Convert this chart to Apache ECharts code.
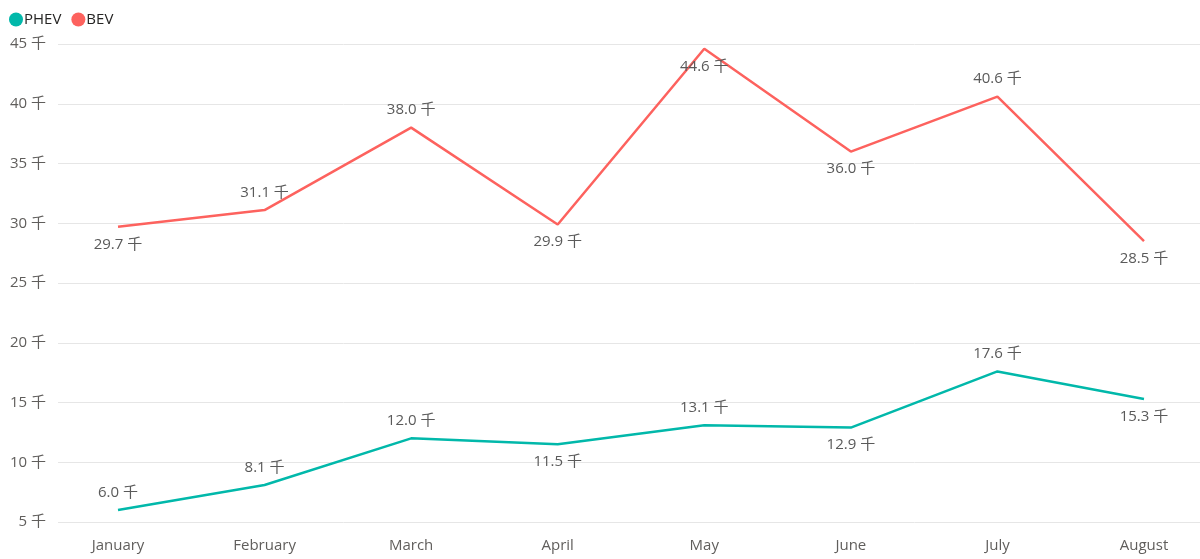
<!DOCTYPE html>
<html>
<head>
<meta charset="utf-8">
<script src="https://cdn.jsdelivr.net/npm/echarts@6/dist/echarts.min.js"></script>
<style>html,body{margin:0;padding:0;background:#fff}#c{width:1200px;height:559px}</style>
</head>
<body>
<div id="c"></div>
<script>
var months = ['January','February','March','April','May','June','July','August'];
var phev = [6.0, 8.1, 12.0, 11.5, 13.1, 12.9, 17.6, 15.3];
var bev = [29.7, 31.1, 38.0, 29.9, 44.6, 36.0, 40.6, 28.5];
var yTicks = [5, 10, 15, 20, 25, 30, 35, 40, 45];

var phevPos = ['top','top','top','bottom','top','bottom','top','bottom'];
var bevPos = ['bottom','top','top','bottom','bottom','bottom','top','bottom'];

var font = '"Open Sans", "Noto Sans CJK SC", sans-serif';
function mk(vals, pos){
  return vals.map(function(v,i){
    return {value:v, label:{position:pos[i]}};
  });
}
var chart = echarts.init(document.getElementById('c'));
chart.setOption({
  animation:false,
  textStyle:{fontFamily:font},
  legend:{left:4, top:7, icon:'circle', itemWidth:14, itemHeight:14, itemGap:10,
    textStyle:{fontSize:15, color:'#252423', fontFamily:font, padding:[0,0,0,-4]},
    data:['PHEV','BEV']},
  grid:[
    {left:118, right:56, top:44, bottom:37, containLabel:false},
    {left:58, right:0, top:44, bottom:37, containLabel:false}
  ],
  xAxis:[
    {type:'category', gridIndex:0, data:months, boundaryGap:false,
     axisLine:{show:false}, axisTick:{show:false},
     axisLabel:{margin:16, fontSize:15, color:'#605e5c', fontFamily:font}},
    {type:'category', gridIndex:1, data:months, show:false}
  ],
  yAxis:[
    {type:'value', gridIndex:0, min:yTicks[0], max:yTicks[yTicks.length-1], interval:5, show:false},
    {type:'value', gridIndex:1, min:yTicks[0], max:yTicks[yTicks.length-1], interval:5,
     axisLine:{show:false}, axisTick:{show:false},
     splitLine:{lineStyle:{color:'#e6e6e6', width:1}},
     axisLabel:{margin:12, fontSize:15, color:'#605e5c', fontFamily:font,
       formatter:function(v){return v + ' 千';}}}
  ],
  series:[
    {name:'PHEV', type:'line', xAxisIndex:0, yAxisIndex:0, data:mk(phev, phevPos),
     symbol:'circle', symbolSize:0.1, color:'#01B8AA',
     lineStyle:{width:2.5, color:'#01B8AA'},
     label:{show:true, distance:10, fontSize:15, color:'#5a5a5a', fontFamily:font,
       formatter:function(p){return p.value.toFixed(1) + ' 千';}}},
    {name:'BEV', type:'line', xAxisIndex:0, yAxisIndex:0, data:mk(bev, bevPos),
     symbol:'circle', symbolSize:0.1, color:'#FD625E',
     lineStyle:{width:2.5, color:'#FD625E'},
     label:{show:true, distance:10, fontSize:15, color:'#5a5a5a', fontFamily:font,
       formatter:function(p){return p.value.toFixed(1) + ' 千';}}}
  ]
});
</script>
</body>
</html>
